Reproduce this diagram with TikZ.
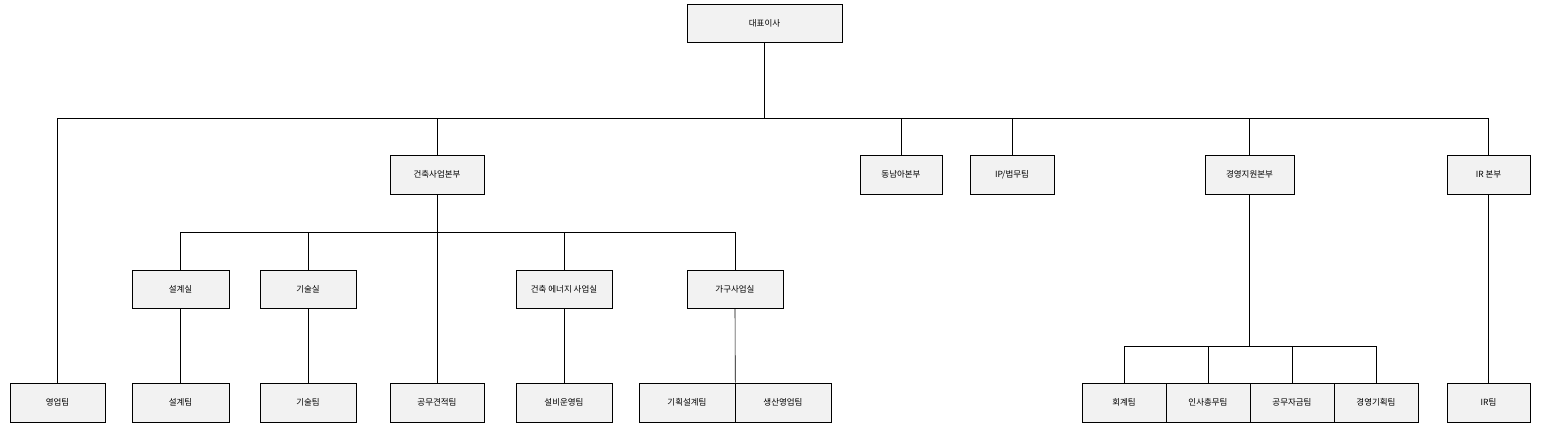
\documentclass[tikz,border=0pt]{standalone}
\usepackage{fontspec}
\setmainfont{Noto Sans CJK KR}
\begin{document}
\begin{tikzpicture}[x=1pt,y=-1pt,
  bx/.style={draw,fill=gray!10,line width=0.6pt,font=\fontsize{8.5}{10}\selectfont,inner sep=0pt},
  ln/.style={line width=0.6pt}]
\useasboundingbox (0,0) rectangle (1544,432);
\newcommand{\bx}[6]{\node[bx,minimum width=#4-#3,minimum height=#6-#5] (#1) at ({(#3+#4)/2},{(#5+#6)/2}) {#2};}
\bx{ceo}{대표이사}{687}{842}{4}{42}
\bx{gc}{건축사업본부}{390}{484}{155}{194}
\bx{sea}{동남아본부}{860}{942}{155}{194}
\bx{ip}{IP/법무팀}{970}{1054}{155}{194}
\bx{ms}{경영지원본부}{1205}{1294}{155}{194}
\bx{ir}{IR 본부}{1447}{1530}{155}{194}
\bx{d1}{설계실}{132}{229}{270}{308}
\bx{t1}{기술실}{260}{356}{270}{308}
\bx{en}{건축 에너지 사업실}{516}{612}{270}{308}
\bx{fu}{가구사업실}{687}{783}{270}{308}
\bx{sales}{영업팀}{10}{105}{383}{422}
\bx{d2}{설계팀}{132}{229}{383}{422}
\bx{t2}{기술팀}{260}{356}{383}{422}
\bx{cost}{공무견적팀}{390}{484}{383}{422}
\bx{fac}{설비운영팀}{516}{612}{383}{422}
\bx{plan}{기획설계팀}{639}{735}{383}{422}
\bx{prod}{생산영업팀}{735}{831}{383}{422}
\bx{acc}{회계팀}{1082}{1166}{383}{422}
\bx{hr}{인사총무팀}{1166}{1250}{383}{422}
\bx{fund}{공무자금팀}{1250}{1334}{383}{422}
\bx{mp}{경영기획팀}{1334}{1418}{383}{422}
\bx{irt}{IR팀}{1447}{1530}{383}{422}
\coordinate (b1) at (764.5,118);
\draw[ln] (ceo.south) -- (b1);
\draw[ln] (sales.north) |- (ir.north |- b1) -- (ir.north);
\foreach \n in {gc,sea,ip,ms} \draw[ln] (\n.north) -- (\n.north |- b1);
\coordinate (b2) at (437,232);
\draw[ln] (gc.south) -- (cost.north);
\draw[ln] (d1.north) |- (fu.north |- b2) -- (fu.north);
\foreach \n in {t1,en} \draw[ln] (\n.north) -- (\n.north |- b2);
\draw[ln] (d1.south) -- (d2.north);
\draw[ln] (t1.south) -- (t2.north);
\draw[ln] (en.south) -- (fac.north);
\draw[ln] (fu.south) -- (plan.north east);
\coordinate (b3) at (1249,346);
\draw[ln] (ms.south) -- (ms.south |- b3);
\draw[ln] (acc.north) |- (mp.north |- b3) -- (mp.north);
\foreach \n in {hr,fund} \draw[ln] (\n.north) -- (\n.north |- b3);
\draw[ln] (ir.south) -- (irt.north);
\end{tikzpicture}
\end{document}
